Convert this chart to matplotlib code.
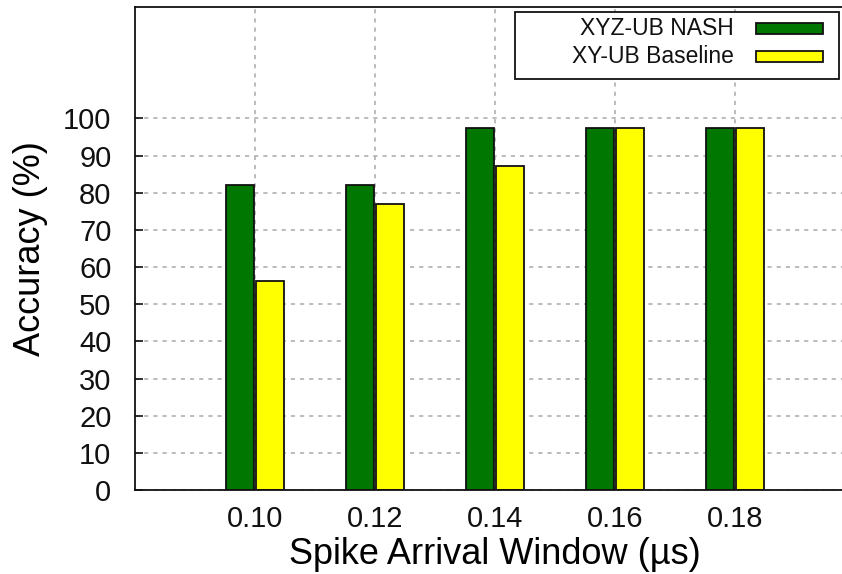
import matplotlib
matplotlib.use("Agg")
import matplotlib.pyplot as plt
from matplotlib.patches import Rectangle

plt.rcParams['font.family'] = ['Liberation Sans', 'DejaVu Sans']

windows = ["0.10", "0.12", "0.14", "0.16", "0.18"]
nash = [82.0, 82.0, 97.3, 97.3, 97.3]
baseline = [56.3, 77.0, 87.1, 97.3, 97.3]
series_labels = ["XYZ-UB NASH", "XY-UB Baseline"]
series_colors = ["#007700", "#ffff00"]
yticks = [0, 10, 20, 30, 40, 50, 60, 70, 80, 90, 100]

W, H = 842, 574
fig = plt.figure(figsize=(W / 100, H / 100), dpi=100)

def fx(px):
    return px / W

def fy(py):
    return 1 - py / H

# x range [-1, 5]; the plot area runs on past the right edge of the canvas
left_px = 135
unit_px = 120.0
ax = fig.add_axes([fx(left_px), fy(490), 6 * unit_px / W, (490 - 7) / H])

x = list(range(len(windows)))
bw = 0.235
off = 0.128
ax.bar([i - off for i in x], nash, width=bw, color=series_colors[0],
       edgecolor="#111111", linewidth=1.3, zorder=3)
ax.bar([i + off for i in x], baseline, width=bw, color=series_colors[1],
       edgecolor="#111111", linewidth=1.3, zorder=3)

ax.set_xlim(-1, 5)
ax.set_ylim(0, 130)
ax.set_xticks(x)
ax.set_xticklabels(windows)
ax.set_yticks(yticks)
ax.tick_params(axis="both", direction="in", length=6, width=1.2,
               labelsize=21, colors="#111111")
ax.tick_params(axis="x", length=0, pad=11)
ax.tick_params(axis="y", pad=17)
ax.grid(True, color="#b0b0b0", linestyle=(0, (2.5, 3)), linewidth=1.2, zorder=0)

# frame: left spine plus top and bottom rules, no right side
for name, s in ax.spines.items():
    s.set_visible(name == "left")
ax.spines["left"].set_linewidth(1.3)
ax.spines["left"].set_color("#111111")
for yv in (0, 130):
    ax.axhline(yv, color="#111111", linewidth=1.3, clip_on=False, zorder=4)

ax.set_xlabel("Spike Arrival Window (µs)", fontsize=26, labelpad=3)
ax.set_ylabel("Accuracy (%)", fontsize=26, labelpad=11)

# key box in the upper right
fig.patches.append(Rectangle((fx(515), fy(79)), (839 - 515) / W, (79 - 12) / H,
                             transform=fig.transFigure, facecolor="white",
                             edgecolor="#111111", linewidth=1.3, zorder=5))
rows_y = [28.3, 56.7]
for label, color, py in zip(series_labels, series_colors, rows_y):
    fig.text(fx(734), fy(py), label, ha="right", va="center", fontsize=16.5,
             color="#111111", zorder=6)
    fig.patches.append(Rectangle((fx(756), fy(py + 5.7)), (823 - 756) / W, 11.4 / H,
                                 transform=fig.transFigure, facecolor=color,
                                 edgecolor="#111111", linewidth=1.3, zorder=6))

fig.savefig("out.png", dpi=100)
